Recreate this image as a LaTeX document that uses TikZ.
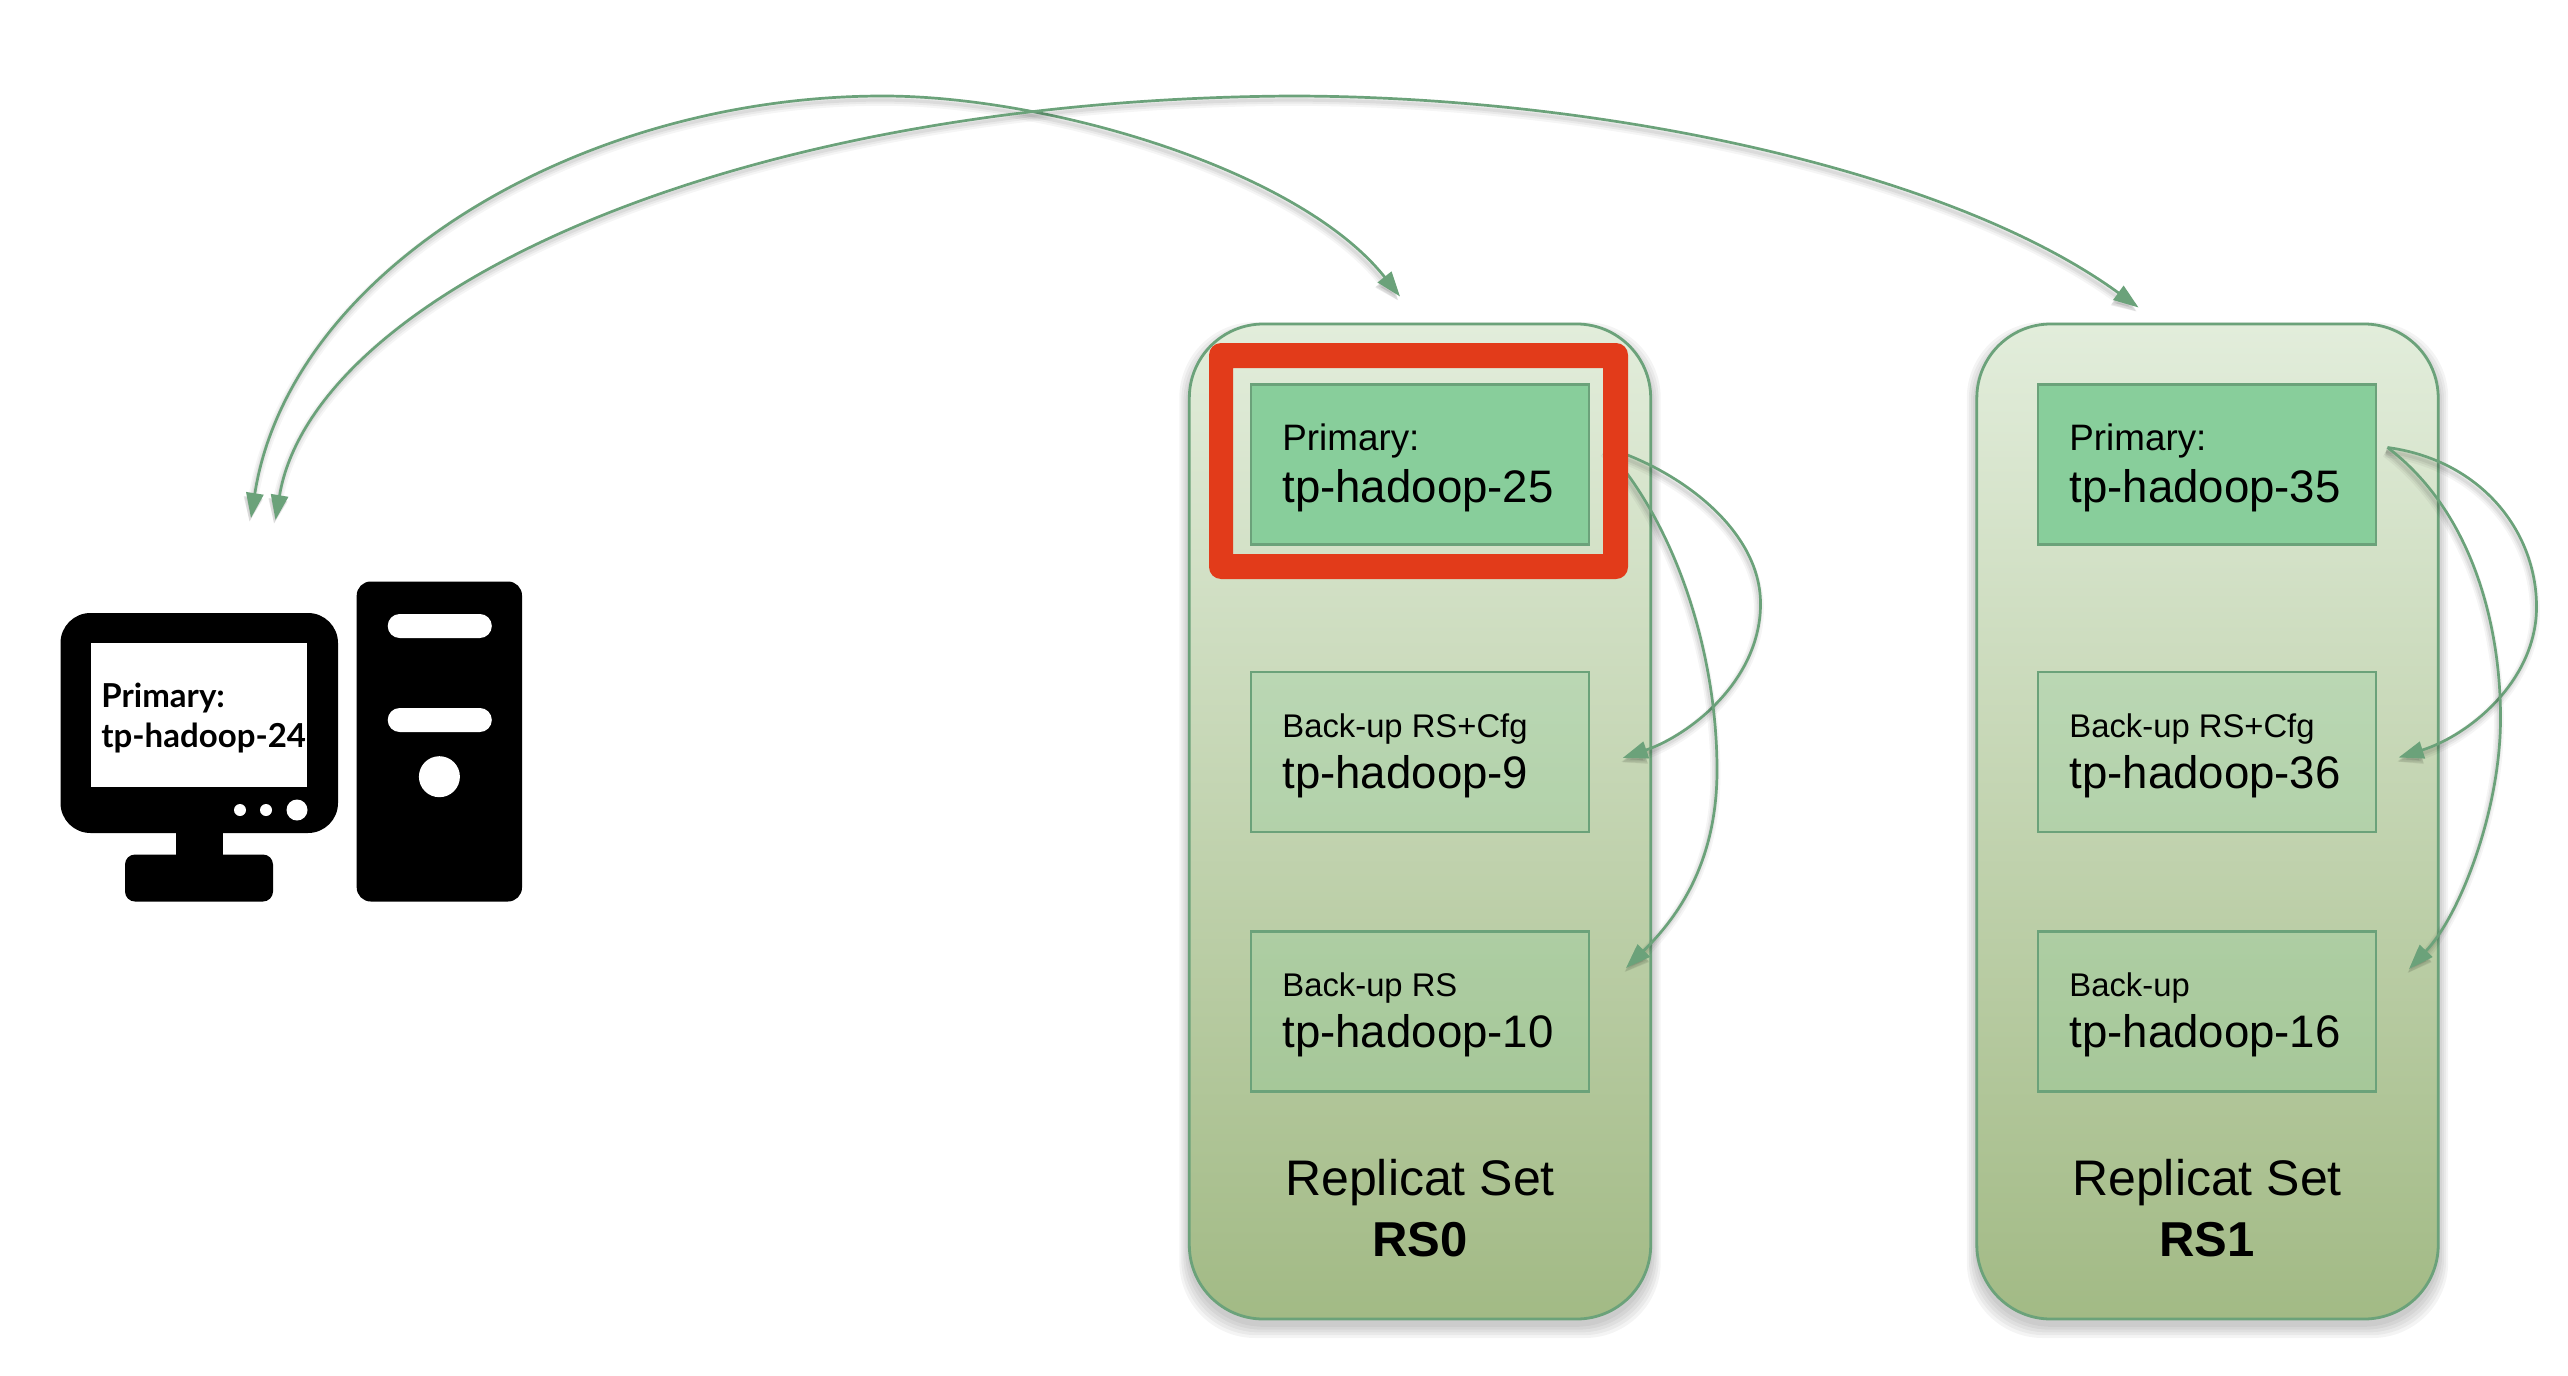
\documentclass[tikz,border=0pt]{standalone}
\usepackage{fontspec}
\setmainfont{Liberation Sans}
\newfontfamily\latofont{Lato}
\usetikzlibrary{arrows.meta}
\definecolor{edgegreen}{HTML}{6BA27A}
\definecolor{toptint}{HTML}{E2EDDB}
\definecolor{bottint}{HTML}{A2BA85}
\definecolor{primfill}{HTML}{88CE9B}
\definecolor{alertred}{HTML}{E23B1A}
\tikzset{
  container/.style={draw=edgegreen,line width=1.4pt,rounded corners=37pt,top color=toptint,bottom color=bottint,minimum width=230.7pt,minimum height=497.5pt,inner sep=0pt},
  primbox/.style={draw=edgegreen,line width=1.2pt,fill=primfill,minimum width=169pt,minimum height=80pt,inner sep=0pt},
  backbox/.style={draw=edgegreen,line width=1.2pt,fill=primfill,fill opacity=.25,minimum width=169pt,minimum height=80pt,inner sep=0pt},
  roletext/.style={anchor=base west,font=\fontsize{18.4}{20}\selectfont,inner sep=0pt},
  backtext/.style={anchor=base west,font=\fontsize{16.4}{18}\selectfont,inner sep=0pt},
  hosttext/.style={anchor=base west,font=\fontsize{22.8}{24}\selectfont,inner sep=0pt},
  settext/.style={anchor=base,font=\fontsize{25}{27}\selectfont,inner sep=0pt},
  setbold/.style={anchor=base,font=\fontsize{24.5}{27}\selectfont\bfseries,inner sep=0pt},
  pctext/.style={anchor=base west,font=\latofont\bfseries\fontsize{16.5}{18}\selectfont,inner sep=0pt},
  softedge/.style={draw=edgegreen,line width=1.35pt,
    preaction={draw=black,draw opacity=.04,fill opacity=.04,line width=5pt,transform canvas={xshift=-.8pt,yshift=-2.4pt}},
    preaction={draw=black,draw opacity=.05,fill opacity=.05,line width=3.2pt,transform canvas={xshift=-.8pt,yshift=-2.2pt}},
    preaction={draw=black,draw opacity=.06,fill opacity=.06,line width=1.6pt,transform canvas={xshift=-.8pt,yshift=-2pt}}},
  oneway/.style={softedge,-{Triangle[length=12.5pt,width=8.6pt]}},
  twoway/.style={softedge,{Triangle[length=12.5pt,width=8.6pt]}-{Triangle[length=12.5pt,width=8.6pt]}},
  haze/.style={fill=black,fill opacity=.045},
}
\begin{document}
\begin{tikzpicture}[x=0.5pt,y=-0.5pt]
\useasboundingbox (0,0) rectangle (2568,1375);
% soft shadows of the two sets
\foreach \cx in {1420,2207.5}{
  \foreach \g in {2,4,6,8,10}{
    \fill[haze,rounded corners=38pt] (\cx-230.7-\g,324+8-\g) rectangle (\cx+230.7+\g,1319+5+1.4*\g);
  }
}
% sets
\node[container] (rs0) at (1420,821.5) {};
\node[container] (rs1) at (2207.5,821.5) {};
% boxes of RS0
\node[primbox] (b25) at (1420,464.5) {};
\node[backbox] (b9)  at (1420,752) {};
\node[backbox] (b10) at (1420,1011.5) {};
% boxes of RS1
\node[primbox] (b35) at (2207,464.5) {};
\node[backbox] (b36) at (2207,752) {};
\node[backbox] (b16) at (2207,1011.5) {};
% labels
\node[roletext] (l25a) at (1282,450.5) {Primary:};
\node[hosttext] (l25b) at (1282,502.5) {tp-hadoop-25};
\node[backtext] (l9a)  at (1282,737) {Back-up RS+Cfg};
\node[hosttext] (l9b)  at (1282,788) {tp-hadoop-9};
\node[backtext] (l10a) at (1282,996) {Back-up RS};
\node[hosttext] (l10b) at (1282,1047) {tp-hadoop-10};
\node[roletext] (l35a) at (2069,450.5) {Primary:};
\node[hosttext] (l35b) at (2069,502.5) {tp-hadoop-35};
\node[backtext] (l36a) at (2069,737) {Back-up RS+Cfg};
\node[hosttext] (l36b) at (2069,788) {tp-hadoop-36};
\node[backtext] (l16a) at (2069,996) {Back-up};
\node[hosttext] (l16b) at (2069,1047) {tp-hadoop-16};
\node[settext] (s0a) at (1420,1195.5) {Replicat Set};
\node[setbold] (s0b) at (1420,1256) {RS0};
\node[settext] (s1a) at (2207,1195.5) {Replicat Set};
\node[setbold] (s1b) at (2207,1256) {RS1};
% computer
\fill[black,rounded corners=15pt] (60.5,613) rectangle (338,833);
\fill[black] (176,825) rectangle (222.7,860);
\fill[black,rounded corners=5pt] (125,854.5) rectangle (273,901.5);
\fill[black,rounded corners=7pt] (356.7,581.5) rectangle (522,901.5);
\fill[white] (91,643) rectangle (307,787);
\fill[white,rounded corners=6pt] (387.7,614) rectangle (491.8,638);
\fill[white,rounded corners=6pt] (387.7,708) rectangle (491.8,732);
\fill[white] (439.4,776.7) ellipse [x radius=20.5,y radius=20.5];
\fill[white] (240,810) circle [radius=6];
\fill[white] (266,810) circle [radius=6];
\fill[white] (297,810) circle [radius=10.5];
\node[pctext] (pc1) at (101,707.5) {Primary:};
\node[pctext] (pc2) at (101,747) {tp-hadoop-24};
% anchors of connectors
\coordinate (pcA) at (251,518);
\coordinate (pcB) at (275.5,520);
\coordinate (top0) at (1400,296.5);
\coordinate (top1) at (2138.5,307.5);
\coordinate (peakA) at (883,96);
\coordinate (peakB) at (1290,96);
\coordinate (s25) at (1606,447.5);
\coordinate (s35) at (2387.5,447.5);
\coordinate (t9) at (1622.6,758);
\coordinate (t10) at (1626,968);
\coordinate (t36) at (2398.6,757.5);
\coordinate (t16) at (2409,969);
% long arcs
\draw[twoway] (pcA) .. controls (290,270) and (580,96) .. (peakA) .. controls (1050,96) and (1300,170) .. (top0);
\draw[twoway] (pcB) .. controls (312,300) and (715,100) .. (peakB) .. controls (1600,96) and (1950,170) .. (top1);
% arcs inside RS0 and RS1
\draw[oneway] (s25) .. controls (1680,470) and (1760,530) .. (1760.5,603) .. controls (1761,680) and (1690,735) .. (t9);
\draw[oneway] (s25) .. controls (1680,530) and (1717,660) .. (1717,770) .. controls (1717,860) and (1680,915) .. (t10);
\draw[oneway] (s35) .. controls (2480,460) and (2536,530) .. (2536.5,606) .. controls (2537,680) and (2470,735) .. (t36);
\draw[oneway] (s35) .. controls (2470,510) and (2500,620) .. (2500.5,716) .. controls (2501,810) and (2460,915) .. (t16);
% highlight
\fill[alertred,even odd rule,rounded corners=6pt] (1209,343) rectangle (1628,579) [sharp corners] (1233,368) rectangle (1603,554);
\end{tikzpicture}
\end{document}
